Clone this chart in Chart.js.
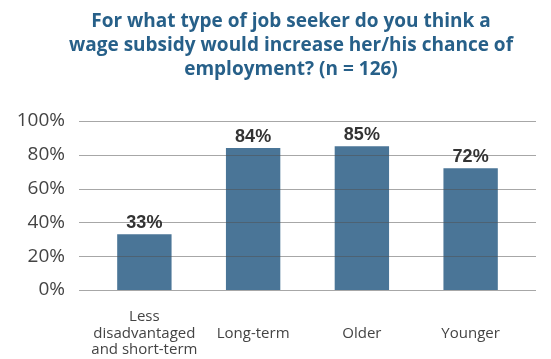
<!DOCTYPE html>
<html>
<head>
<meta charset="utf-8">
<script src="https://cdn.jsdelivr.net/npm/chart.js@4"></script>
<style>
  html, body { margin: 0; padding: 0; background: #fff; }
  #wrap { width: 551px; height: 359px; }
</style>
</head>
<body>
<div id="wrap"><canvas id="subsidy-chart"></canvas></div>
<script>
const titleLines = [
  'For what type of job seeker do you think a',
  'wage subsidy would increase her/his chance of',
  'employment? (n = 126)'
];
const jobSeekerTypes = [
  ['Less', 'disadvantaged', 'and short-term'],
  'Long-term',
  'Older',
  'Younger'
];
const shareYes = [33, 84, 85, 72];
const percentTicks = [0, 20, 40, 60, 80, 100];

// horizontal grid lines run a little past the outer bars, on top of them
const gridPlugin = {
  id: 'wideGrid',
  afterDatasetsDraw(chart) {
    const { ctx, chartArea, scales } = chart;
    ctx.save();
    ctx.strokeStyle = 'rgba(80, 80, 80, 0.5)';
    ctx.lineWidth = 1;
    percentTicks.forEach(v => {
      const y = Math.round(scales.y.getPixelForValue(v)) + 0.5;
      ctx.beginPath();
      ctx.moveTo(chartArea.left - 11, y);
      ctx.lineTo(chartArea.right + 11, y);
      ctx.stroke();
    });
    ctx.restore();
  }
};

// percentage labels above each bar
const valueLabels = {
  id: 'valueLabels',
  afterDatasetsDraw(chart) {
    const { ctx } = chart;
    const meta = chart.getDatasetMeta(0);
    ctx.save();
    ctx.font = 'bold 18px "Liberation Sans", Arial, sans-serif';
    ctx.fillStyle = '#333333';
    ctx.textAlign = 'center';
    ctx.textBaseline = 'alphabetic';
    meta.data.forEach((bar, i) => {
      ctx.fillText(shareYes[i] + '%', bar.x, bar.y - 6);
    });
    ctx.restore();
  }
};

// the heading sits a bit right of the canvas centre
const headingPlugin = {
  id: 'heading',
  afterDraw(chart) {
    const { ctx } = chart;
    ctx.save();
    ctx.font = 'bold 19px "Open Sans"';
    ctx.fillStyle = '#276089';
    ctx.textAlign = 'center';
    ctx.textBaseline = 'alphabetic';
    titleLines.forEach((line, i) => ctx.fillText(line, 291, 27 + i * 24));
    ctx.restore();
  }
};

const ctx = document.getElementById('subsidy-chart').getContext('2d');
new Chart(ctx, {
  type: 'bar',
  data: {
    labels: jobSeekerTypes,
    datasets: [{
      data: shareYes,
      backgroundColor: '#4a7597',
      categoryPercentage: 1,
      barPercentage: 0.5
    }]
  },
  options: {
    responsive: true,
    maintainAspectRatio: false,
    animation: false,
    layout: { padding: { top: 121, left: 0, right: 0, bottom: 0 } },
    scales: {
      x: {
        afterFit: scale => { scale.height = 69; },
        grid: { display: false },
        border: { display: false },
        ticks: {
          color: '#444444',
          font: { family: 'Open Sans', size: 15, lineHeight: 1.1 },
          padding: 19,
          crossAlign: 'center',
          maxRotation: 0,
          autoSkip: false
        }
      },
      y: {
        min: 0,
        max: 100,
        afterFit: scale => { scale.width = 90; },
        grid: { display: false, drawTicks: false },
        border: { display: false },
        afterBuildTicks: scale => {
          scale.ticks = percentTicks.map(v => ({ value: v }));
        },
        ticks: {
          color: '#444444',
          font: { family: 'Open Sans', size: 19 },
          padding: 25,
          callback: v => v + '%'
        }
      },
      spacer: {
        position: 'right',
        display: true,
        afterFit: scale => { scale.width = 26; },
        grid: { display: false },
        border: { display: false },
        ticks: { display: false }
      }
    },
    plugins: {
      legend: { display: false },
      tooltip: { enabled: false },
      title: { display: false }
    }
  },
  plugins: [gridPlugin, valueLabels, headingPlugin]
});
</script>
</body>
</html>
